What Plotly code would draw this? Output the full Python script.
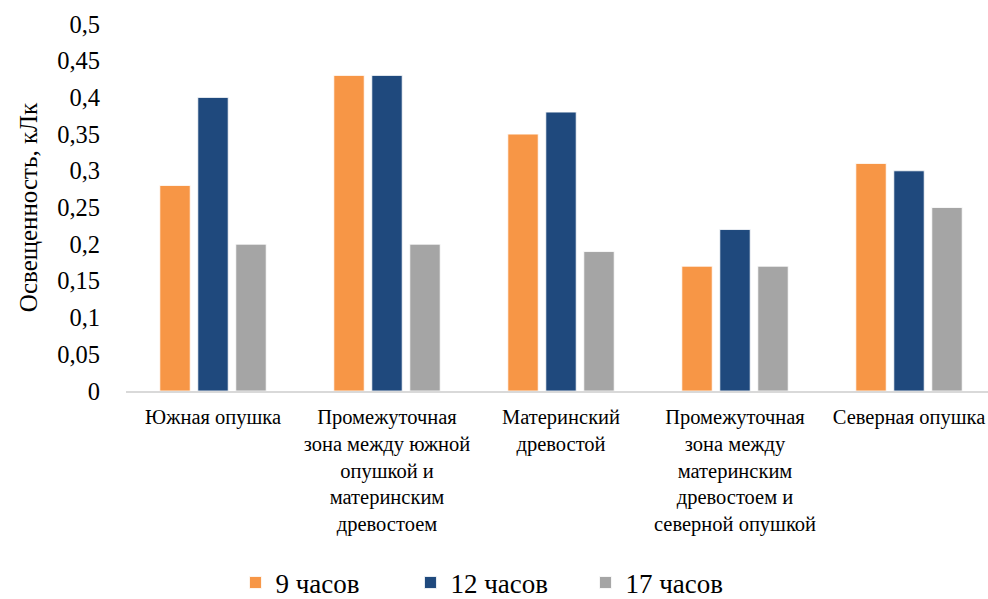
import plotly.graph_objects as go

categories = [
    "Южная опушка",
    "Промежуточная<br>зона между южной<br>опушкой и<br>материнским<br>древостоем",
    "Материнский<br>древостой",
    "Промежуточная<br>зона между<br>материнским<br>древостоем и<br>северной опушкой",
    "Северная опушка",
]
series_names = ["9 часов", "12 часов", "17 часов"]
values_9 = [0.28, 0.43, 0.35, 0.17, 0.31]
values_12 = [0.40, 0.43, 0.38, 0.22, 0.30]
values_17 = [0.20, 0.20, 0.19, 0.17, 0.25]
colors = ["#F79646", "#1F497D", "#A5A5A5"]
y_ticks = [0, 0.05, 0.1, 0.15, 0.2, 0.25, 0.3, 0.35, 0.4, 0.45, 0.5]
y_tick_labels = ["0", "0,05", "0,1", "0,15", "0,2", "0,25", "0,3", "0,35", "0,4", "0,45", "0,5"]

FONT = "Liberation Serif"

fig = go.Figure()
for name, vals, col in zip(series_names, [values_9, values_12, values_17], colors):
    fig.add_trace(go.Bar(
        x=list(range(len(categories))), y=vals, name=name,
        marker=dict(color=col, line=dict(color="rgba(255,255,255,0.8)", width=1)),
    ))

fig.update_layout(
    template="none",
    width=988, height=599,
    margin=dict(l=126, r=0, t=24, b=208, autoexpand=False),
    paper_bgcolor="white", plot_bgcolor="white",
    barmode="group", bargap=0.345, bargroupgap=0.2,
    font=dict(family=FONT, size=20, color="#000000"),
    showlegend=True,
    legend=dict(
        orientation="h", x=0.127, xanchor="left", y=-0.523, yanchor="middle",
        font=dict(family=FONT, size=27, color="#000000"),
        entrywidth=130, traceorder="normal",
    ),
    xaxis=dict(
        tickmode="array", tickvals=list(range(len(categories))), ticktext=categories,
        range=[-0.5, 4.454], showgrid=False, showline=True, linecolor="#D9D9D9", linewidth=1.5,
        ticks="", tickfont=dict(family=FONT, size=20.5, color="#000000"), tickangle=0,
        ticklabelstandoff=7, zeroline=False, automargin=False,
    ),
    yaxis=dict(
        range=[0, 0.5], tickmode="array", tickvals=y_ticks, ticktext=y_tick_labels,
        showgrid=False, showline=False, zeroline=False, ticks="", automargin=False,
        ticklabelstandoff=25,
        tickfont=dict(family=FONT, size=24.5, color="#000000"),
        title=dict(text="Освещенность, кЛк", font=dict(family=FONT, size=25, color="#000000"), standoff=12),
    ),
)

fig.write_html("out.html")
